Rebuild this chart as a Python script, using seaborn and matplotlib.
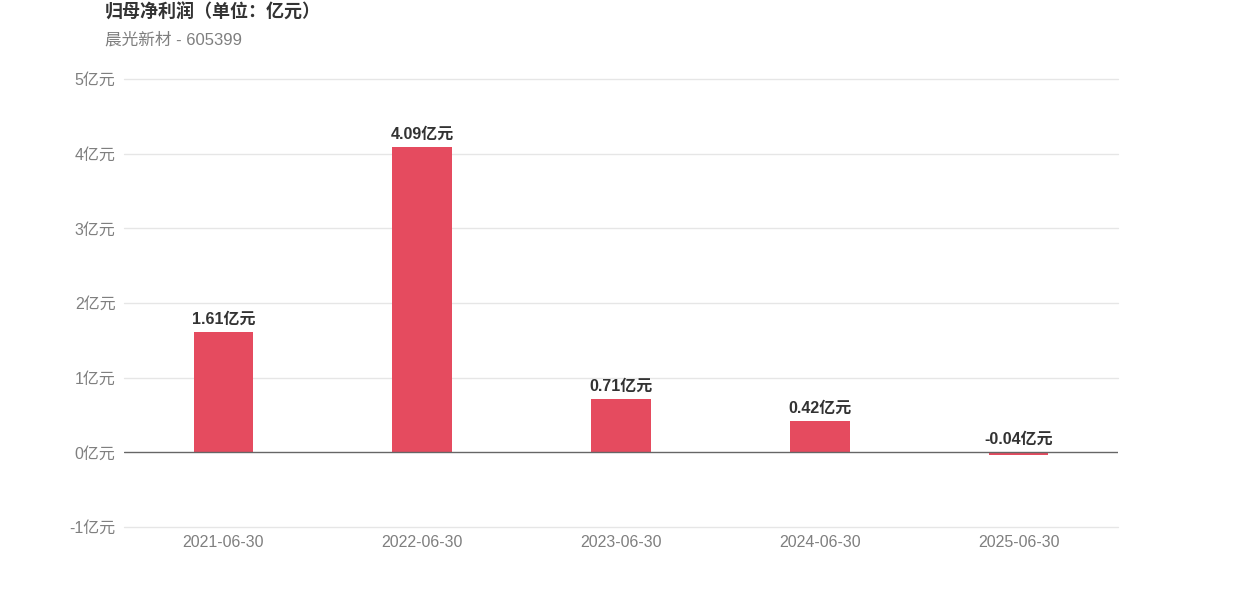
import pandas as pd
import numpy as np
import matplotlib
matplotlib.use('Agg')
import matplotlib.pyplot as plt
import seaborn as sns

# data
periods = ['2021-06-30', '2022-06-30', '2023-06-30', '2024-06-30', '2025-06-30']
profit = [1.61, 4.09, 0.71, 0.42, -0.04]
value_labels = ['1.61亿元', '4.09亿元', '0.71亿元', '0.42亿元', '-0.04亿元']
y_ticks = [-1, 0, 1, 2, 3, 4, 5]

sns.set_theme(style='white')
plt.rcParams['font.family'] = ['Liberation Sans', 'Noto Sans CJK SC', 'DejaVu Sans']
plt.rcParams['axes.unicode_minus'] = False

df = pd.DataFrame({'period': periods, 'profit': profit})

fig = plt.figure(figsize=(12.42, 5.96), dpi=100)
ax = fig.add_axes([124 / 1242, 1 - 527 / 596, 994 / 1242, 448 / 596])

sns.barplot(data=df, x='period', y='profit', color='#E54B5F', width=0.3,
            saturation=1, linewidth=0, ax=ax, zorder=3)

ax.set_ylim(-1, 5)
ax.set_xlim(-0.5, 4.5)
ax.set_yticks(y_ticks)
ax.set_yticklabels([f'{t}亿元' for t in y_ticks])
for t in y_ticks:
    if t != 0:
        ax.axhline(t, color='#E6E6E6', lw=1, zorder=0, clip_on=False)
ax.axhline(0, color='#666666', lw=1, zorder=4)

for s in ax.spines.values():
    s.set_visible(False)
ax.tick_params(axis='both', length=0, labelsize=11.5, labelcolor='#7F7F7F')
ax.tick_params(axis='y', pad=6)
ax.tick_params(axis='x', pad=6)
ax.set_xlabel('')
ax.set_ylabel('')

for i, (v, lab) in enumerate(zip(profit, value_labels)):
    top = max(v, 0)
    ax.annotate(lab, (i, top), xytext=(0, 4), textcoords='offset points',
                ha='center', va='bottom', fontsize=11.5, fontweight='bold',
                color='#333333')

fig.text(105 / 1242, 1 - 13 / 596, '归母净利润（单位：亿元）', fontsize=13,
         fontweight='bold', color='#333333', va='center', ha='left')
fig.text(105 / 1242, 1 - 40 / 596, '晨光新材 - 605399', fontsize=12,
         color='#7F7F7F', va='center', ha='left')

fig.savefig('out.png', dpi=100)
